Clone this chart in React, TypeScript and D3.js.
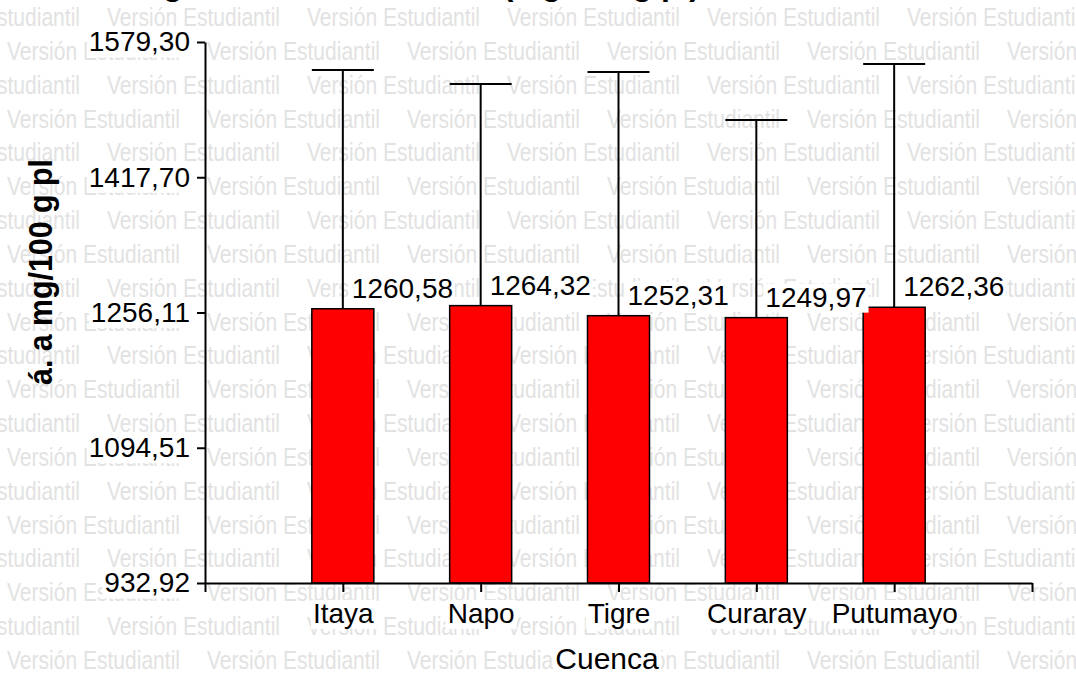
import * as d3 from "d3";
import { useEffect, useRef } from "react";

// Medias por cuenca y su error (extremo superior de la barra de error)
const cuencas = ["Itaya", "Napo", "Tigre", "Curaray", "Putumayo"];
const medias = [1260.58, 1264.32, 1252.31, 1249.97, 1262.36];
const errores = [285.3, 264.8, 291.1, 236.1, 290.7];
const yTicks = [932.92, 1094.51, 1256.11, 1417.7, 1579.3];

const titulo = "Figura 1. Medias de á. a (mg/100 g pl)";
const ejeX = "Cuenca";
const ejeY = "á. a mg/100 g pl";
const marcaAgua = "Versión Estudiantil";

const FONT = "'Liberation Sans', Arial, sans-serif";
const fmt = (v: number) => v.toFixed(2).replace(".", ",");

const App = () => {
  const svgRef = useRef<SVGSVGElement | null>(null);

  useEffect(() => {
    const svg = d3.select(svgRef.current);
    svg.selectAll("*").remove();

    const width = 1076;
    const height = 675;
    const margin = { top: 42, right: 44, bottom: 92, left: 205 };

    const x = d3
      .scaleLinear()
      .domain([0, cuencas.length + 1])
      .range([margin.left, width - margin.right]);
    const y = d3
      .scaleLinear()
      .domain([yTicks[0], yTicks[yTicks.length - 1]])
      .range([height - margin.bottom, margin.top]);

    svg.append("rect").attr("width", width).attr("height", height).attr("fill", "#fff");

    // white box behind a text node
    const boxBehind = (sel: d3.Selection<SVGTextElement, any, any, any>, pad = 2) => {
      sel.each(function () {
        const b = this.getBBox();
        const parent = this.parentNode as SVGGElement;
        d3.select(parent)
          .insert("rect", () => this)
          .attr("x", b.x - pad)
          .attr("y", b.y + 2)
          .attr("width", b.width + pad * 2)
          .attr("height", b.height - 2)
          .attr("transform", this.getAttribute("transform"))
          .attr("fill", "#fff");
      });
    };

    // watermark
    const wm = svg.append("g").attr("fill", "#e2e2e2").attr("font-family", FONT).attr("font-size", 26);
    d3.range(21).forEach((k) => {
      const off = k % 2 === 0 ? -93 : 7;
      d3.range(7).forEach((j) => {
        wm.append("text")
          .attr("x", off + 200 * j)
          .attr("y", 26 + 33.84 * k)
          .attr("textLength", 173)
          .attr("lengthAdjust", "spacingAndGlyphs")
          .text(marcaAgua);
      });
    });

    // title (mostly outside the frame)
    svg
      .append("text")
      .attr("x", 700)
      .attr("y", -5)
      .attr("text-anchor", "end")
      .attr("font-family", FONT)
      .attr("font-weight", "bold")
      .attr("font-size", 32)
      .text(titulo);

    // bars
    const bw = 62;
    const g = svg.append("g");
    g.selectAll("rect.bar")
      .data(medias)
      .join("rect")
      .attr("class", "bar")
      .attr("x", (_, i) => x(i + 1) - bw / 2)
      .attr("y", (d) => y(d))
      .attr("width", bw)
      .attr("height", (d) => y(yTicks[0]) - y(d))
      .attr("fill", "#ff0000")
      .attr("stroke", "#000")
      .attr("stroke-width", 1.5);

    // error bars
    const eb = g.append("g").attr("stroke", "#000").attr("stroke-width", 2);
    medias.forEach((m, i) => {
      const cx = x(i + 1);
      eb.append("line").attr("x1", cx).attr("x2", cx).attr("y1", y(m)).attr("y2", y(m + errores[i]));
      eb.append("line")
        .attr("x1", cx - bw / 2)
        .attr("x2", cx + bw / 2)
        .attr("y1", y(m + errores[i]))
        .attr("y2", y(m + errores[i]));
    });

    // axes
    const yAxis = svg
      .append("g")
      .attr("transform", `translate(${margin.left},0)`)
      .call(d3.axisLeft(y).tickValues(yTicks).tickFormat((d) => fmt(d as number)).tickSize(8).tickSizeOuter(0).tickPadding(7));
    const xAxis = svg
      .append("g")
      .attr("transform", `translate(0,${height - margin.bottom})`)
      .call(
        d3
          .axisBottom(x)
          .tickValues(d3.range(cuencas.length + 2))
          .tickFormat((d) => cuencas[(d as number) - 1] ?? "")
          .tickSize(9)
          .tickSizeOuter(0)
          .tickPadding(11)
      );
    [yAxis, xAxis].forEach((ax) => {
      ax.selectAll("path, line").attr("stroke", "#000").attr("stroke-width", 2);
      ax.selectAll<SVGTextElement, unknown>("text")
        .attr("font-family", FONT)
        .attr("font-size", 28)
        .attr("fill", "#000");
    });
    boxBehind(yAxis.selectAll<SVGTextElement, unknown>("text"));
    boxBehind(xAxis.selectAll<SVGTextElement, unknown>("text").filter((_, i) => i > 0 && i <= cuencas.length));

    // value labels
    const lab = svg.append("g");
    const labTexts = lab
      .selectAll("text")
      .data(medias)
      .join("text")
      .attr("x", (_, i) => x(i + 1) + 9)
      .attr("y", (d) => y(d) - 11)
      .attr("font-family", FONT)
      .attr("font-size", 28)
      .text((d) => fmt(d));
    boxBehind(labTexts as any);

    // axis titles
    const tx = svg
      .append("text")
      .attr("x", 607)
      .attr("y", 669)
      .attr("text-anchor", "middle")
      .attr("font-family", FONT)
      .attr("font-size", 30)
      .text(ejeX);
    boxBehind(tx as any);

    svg
      .append("text")
      .attr("transform", "translate(52,272) rotate(-90)")
      .attr("text-anchor", "middle")
      .attr("font-family", FONT)
      .attr("font-weight", "bold")
      .attr("font-size", 33)
      .attr("textLength", 226)
      .attr("lengthAdjust", "spacingAndGlyphs")
      .text(ejeY);
  }, []);

  return (
    <svg
      ref={svgRef}
      width={1076}
      height={675}
      style={{ position: "absolute", left: 0, top: 0 }}
    ></svg>
  );
};

export default App;
